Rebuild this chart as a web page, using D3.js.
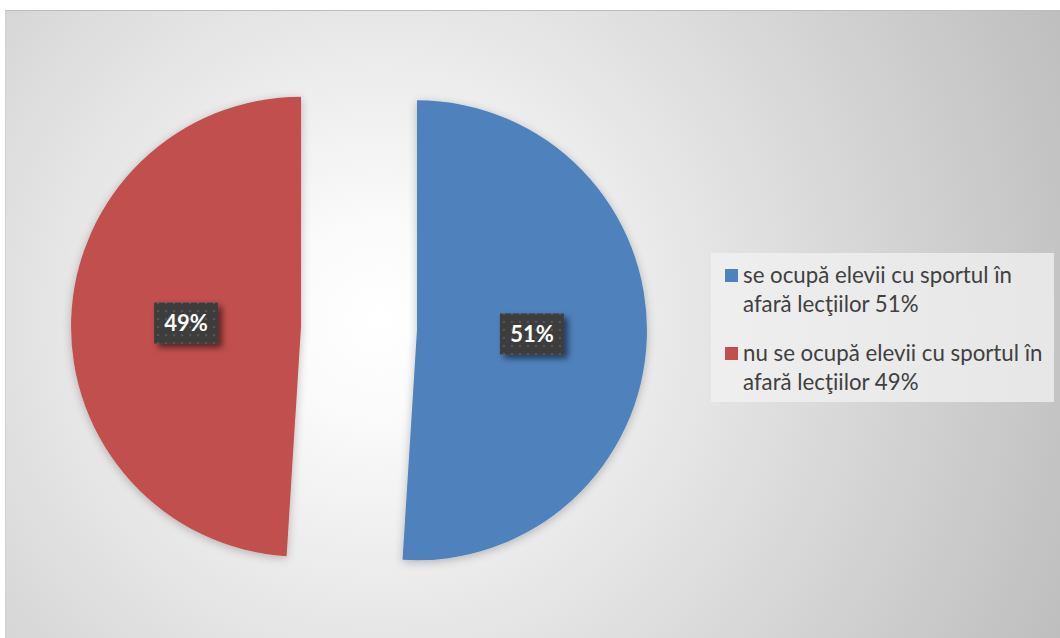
<!DOCTYPE html>
<html>
<head>
<meta charset="utf-8">
<script src="https://cdn.jsdelivr.net/npm/d3@7"></script>
<style>
  html, body { margin: 0; padding: 0; background: #ffffff; }
  svg { display: block; }
</style>
</head>
<body>
<svg id="chart" width="1060" height="638"></svg>
<script>
// Share of pupils practising sport outside lessons
const categories = [
  "se ocupă elevii cu sportul în afară lecţiilor 51%",
  "nu se ocupă elevii cu sportul în afară lecţiilor 49%"
];
const legendLines = [
  ["se ocupă elevii cu sportul în", "afară lecţiilor 51%"],
  ["nu se ocupă elevii cu sportul în", "afară lecţiilor 49%"]
];
const values = [51, 49];
const colors = ["#4f81bd", "#c0504d"];

const svg = d3.select("#chart");
const W = 1060, H = 638;
const defs = svg.append("defs");

// background: radial white-to-grey fill of the chart area
const bg = defs.append("radialGradient").attr("id", "bgGrad")
  .attr("gradientUnits", "userSpaceOnUse")
  .attr("cx", 380).attr("cy", 320).attr("r", 760);
bg.append("stop").attr("offset", "0").attr("stop-color", "#ffffff");
bg.append("stop").attr("offset", "0.12").attr("stop-color", "#fbfbfb");
bg.append("stop").attr("offset", "1").attr("stop-color", "#bdbdbd");

// soft shadow for slices
const sh = defs.append("filter").attr("id", "sliceShadow")
  .attr("x", "-20%").attr("y", "-20%").attr("width", "140%").attr("height", "140%");
sh.append("feGaussianBlur").attr("in", "SourceAlpha").attr("stdDeviation", 5).attr("result", "b");
sh.append("feOffset").attr("in", "b").attr("dx", 0).attr("dy", 2).attr("result", "o");
sh.append("feComponentTransfer").attr("in", "o").attr("result", "s")
  .append("feFuncA").attr("type", "linear").attr("slope", 0.25);
const shm = sh.append("feMerge");
shm.append("feMergeNode").attr("in", "s");
shm.append("feMergeNode").attr("in", "SourceGraphic");

// shadow for data labels
const ls = defs.append("filter").attr("id", "labelShadow")
  .attr("x", "-30%").attr("y", "-30%").attr("width", "170%").attr("height", "170%");
ls.append("feGaussianBlur").attr("in", "SourceAlpha").attr("stdDeviation", 3).attr("result", "b");
ls.append("feOffset").attr("in", "b").attr("dx", 4).attr("dy", 4).attr("result", "o");
ls.append("feComponentTransfer").attr("in", "o").attr("result", "s")
  .append("feFuncA").attr("type", "linear").attr("slope", 0.55);
const lsm = ls.append("feMerge");
lsm.append("feMergeNode").attr("in", "s");
lsm.append("feMergeNode").attr("in", "SourceGraphic");

// dotted texture for label boxes
const pat = defs.append("pattern").attr("id", "dots")
  .attr("patternUnits", "userSpaceOnUse").attr("width", 8).attr("height", 8);
pat.append("rect").attr("width", 8).attr("height", 8).attr("fill", "#3d3d3d");
pat.append("rect").attr("x", 3).attr("y", 3).attr("width", 2).attr("height", 2).attr("fill", "#575757");

// chart area
svg.append("rect")
  .attr("x", 5).attr("y", 10).attr("width", W - 5).attr("height", H - 10)
  .attr("fill", "url(#bgGrad)");
svg.append("line").attr("x1", 5).attr("x2", W).attr("y1", 10.5).attr("y2", 10.5)
  .attr("stroke", "#bcbcbc").attr("stroke-width", 1);
svg.append("line").attr("x1", 5.5).attr("x2", 5.5).attr("y1", 10).attr("y2", H)
  .attr("stroke", "#d0d0d0").attr("stroke-width", 1);

// pie geometry
const cx = 359, cy = 328.5, radius = 230, explode = 58;
const pie = d3.pie().sort(null).value(d => d);
const arcs = pie(values);
const arc = d3.arc().innerRadius(0).outerRadius(radius);

const g = svg.append("g").attr("transform", `translate(${cx},${cy})`);

const slices = g.selectAll("g.slice").data(arcs).enter().append("g")
  .attr("class", "slice")
  .attr("transform", d => {
    const a = (d.startAngle + d.endAngle) / 2;
    return `translate(${explode * Math.sin(a)},${-explode * Math.cos(a)})`;
  });

slices.append("path")
  .attr("d", arc)
  .attr("fill", (d, i) => colors[i])
  .attr("filter", "url(#sliceShadow)");

// data labels
const fmt = d => d3.format(".0%")(d.data / d3.sum(values));
slices.each(function(d) {
  const [lx, ly] = arc.centroid(d);
  const sel = d3.select(this).append("g")
    .attr("transform", `translate(${lx},${ly})`);
  const bw = 64, bh = 41;
  sel.append("rect")
    .attr("x", -bw / 2).attr("y", -bh / 2).attr("width", bw).attr("height", bh)
    .attr("fill", "url(#dots)")
    .attr("filter", "url(#labelShadow)");
  sel.append("text")
    .attr("text-anchor", "middle").attr("dy", "0.36em")
    .attr("fill", "#ffffff")
    .attr("font-family", "Lato, 'Open Sans', sans-serif")
    .attr("font-weight", "bold")
    .attr("font-size", 22)
    .text(fmt(d));
});

// legend
const legend = svg.append("g");
legend.append("rect")
  .attr("x", 711).attr("y", 253).attr("width", 343).attr("height", 149)
  .attr("fill", "#f2f2f2").attr("fill-opacity", 0.75);

const rowTop = [269, 347];
const targetW = 269;
legendLines.forEach((lines, i) => {
  legend.append("rect")
    .attr("x", 725).attr("y", rowTop[i]).attr("width", 13).attr("height", 13)
    .attr("fill", colors[i]);
  lines.forEach((ln, j) => {
    legend.append("text")
      .attr("class", "lg")
      .attr("x", 743).attr("y", rowTop[i] + 14 + j * 29)
      .attr("fill", "#404040")
      .attr("font-family", "Lato, 'Open Sans', sans-serif")
      .attr("font-size", 19)
      .text(ln);
  });
});

// fit legend text size to the box width
const first = legend.select("text.lg").node();
const w0 = first.getComputedTextLength();
const fs = 19 * targetW / w0;
legend.selectAll("text.lg").attr("font-size", fs);
</script>
</body>
</html>
